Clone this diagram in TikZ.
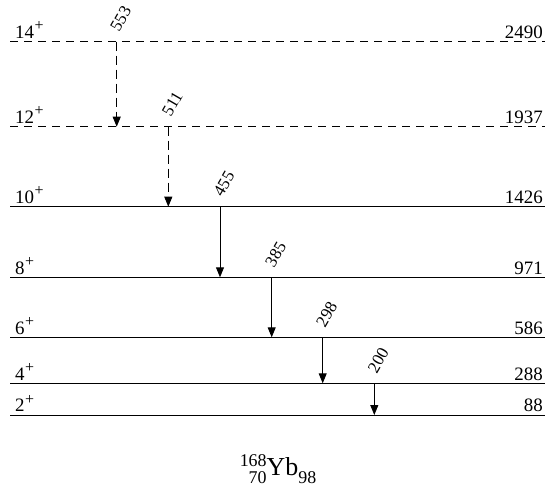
\documentclass[tikz,border=0pt]{standalone}
\usepackage{fontspec}
\setmainfont{Liberation Serif}
\usetikzlibrary{arrows.meta}
\newcommand\plussup{\kern0.5bp\raisebox{0.4em}{\fontsize{16}{16}\selectfont+}}
\begin{document}
\begin{tikzpicture}[x=1bp,y=-1bp,
  level/.style={line width=0.9bp},
  dlevel/.style={line width=0.9bp, dash pattern=on 8bp off 6bp},
  trans/.style={line width=0.9bp,-{Triangle[width=8bp,length=10bp]}},
  dtrans/.style={trans, dash pattern=on 9bp off 5bp},
  lab/.style={font=\fontsize{19}{21}\selectfont, inner sep=0pt},
  spin/.style={lab, anchor=base west},
  en/.style={lab, anchor=base east},
  glab/.style={font=\fontsize{17}{19}\selectfont, inner sep=0pt, rotate=60}
]
\useasboundingbox (0,0) rectangle (547,491);
% dashed levels
\foreach \n/\y/\e in {14/41.7/2490, 12/126.7/1937}{
  \coordinate (L\n a) at (10,\y);
  \coordinate (L\n b) at (545,\y);
  \draw[dlevel] (L\n a) -- (L\n b);
  \node[spin] (S\n) at (15,\y-3.3) {\n\plussup};
  \node[en] (E\n) at (543,\y-3.3) {\e};
}
% solid levels
\foreach \n/\y/\e in {10/206.7/1426, 8/277.3/971, 6/337.3/586, 4/383.3/288, 2/415/88}{
  \coordinate (L\n a) at (10,\y);
  \coordinate (L\n b) at (545,\y);
  \draw[level] (L\n a) -- (L\n b);
  \node[spin] (S\n) at (15,\y-3.3) {\n\plussup};
  \node[en] (E\n) at (543,\y-3.3) {\e};
}
% transitions
\foreach \g/\x/\ya/\yb in {553/116.7/41.7/126.7, 511/168.3/126.7/206.7}{
  \coordinate (T\g a) at (\x,\ya);
  \coordinate (T\g b) at (\x,\yb);
  \draw[dtrans] (T\g a) -- (T\g b);
  \node[glab] (G\g) at (\x+4,\ya-23) {\g};
}
\foreach \g/\x/\ya/\yb in {455/220/206.7/277.3, 385/271.7/277.3/337.3, 298/322.7/337.3/383.3, 200/374.3/383.3/415}{
  \coordinate (T\g a) at (\x,\ya);
  \coordinate (T\g b) at (\x,\yb);
  \draw[trans] (T\g a) -- (T\g b);
  \node[glab] (G\g) at (\x+4,\ya-23) {\g};
}
% nucleus label
\node[inner sep=0pt, anchor=base] (title) at (278,475)
  {\raisebox{-8bp}{\fontsize{18}{16}\selectfont\begin{tabular}[b]{@{}r@{}}168\\70\end{tabular}}\fontsize{26}{28}\selectfont Yb\raisebox{-8bp}{\fontsize{18}{20}\selectfont 98}};
\end{tikzpicture}
\end{document}
